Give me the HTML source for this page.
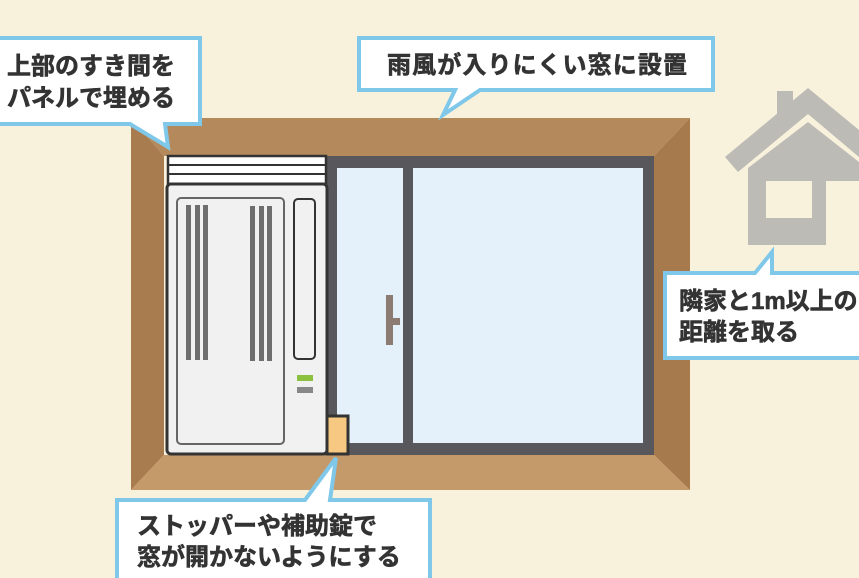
<!DOCTYPE html>
<html><head><meta charset="utf-8"><style>
body{margin:0;width:859px;height:578px;overflow:hidden;background:#f8f1dc;font-family:"Liberation Sans","Noto Sans CJK JP",sans-serif;}
svg{position:absolute;left:0;top:0}
.t{font-family:"Liberation Sans","Noto Sans CJK JP",sans-serif;font-weight:bold;font-size:24px;fill:#333;stroke:#333;stroke-width:0.6}
</style></head><body>
<svg width="859" height="578" viewBox="0 0 859 578">
<g fill="#bdbbb6">
<rect x="777" y="91" width="16" height="30"/>
<polygon points="725,157 808,88 859,130 859,157 808,114 738,172"/>
<polygon points="748,168 808,122 859,162 859,245 748,245"/>
</g>
<rect x="766" y="181" width="46" height="37" fill="#f8f1dc"/>
<rect x="826" y="181" width="40" height="64" fill="#f8f1dc"/>
<polygon points="131,118 690,118 654,156 164,156" fill="#b48a5c"/>
<polygon points="131,118 164,156 164,455 131,490" fill="#a97c4f"/>
<polygon points="131,490 164,455 654,455 690,490" fill="#c49a6a"/>
<polygon points="690,118 654,156 654,455 690,490" fill="#a67a4c"/>
<rect x="325" y="156" width="329" height="299" fill="#58575c"/>
<rect x="337" y="168" width="66" height="275" fill="#e4f1fa"/>
<rect x="413" y="168" width="230" height="275" fill="#e4f1fa"/>
<rect x="386" y="295" width="7" height="50" fill="#8b7b72"/>
<rect x="386" y="318" width="14" height="7" fill="#8b7b72"/>
<rect x="168" y="156" width="158" height="28" fill="#fff" stroke="#333" stroke-width="2.5"/>
<line x1="168" y1="165" x2="326" y2="165" stroke="#333" stroke-width="2"/>
<line x1="168" y1="174" x2="326" y2="174" stroke="#333" stroke-width="2"/>
<rect x="167" y="184" width="160" height="270" rx="4" fill="#f1f1f1" stroke="#333" stroke-width="3"/>
<rect x="177" y="198" width="107" height="246" rx="4" fill="none" stroke="#666" stroke-width="2"/>
<g fill="#6e6e6e">
<rect x="186" y="205" width="5" height="155"/><rect x="195" y="205" width="5" height="155"/><rect x="203" y="205" width="5" height="155"/>
<rect x="250" y="206" width="5" height="155"/><rect x="259" y="206" width="5" height="155"/><rect x="267" y="206" width="5" height="155"/>
</g>
<rect x="294" y="199" width="21" height="160" rx="4" fill="none" stroke="#333" stroke-width="2"/>
<rect x="297" y="375" width="16" height="6" fill="#8cc13f"/>
<rect x="297" y="387" width="16" height="6" fill="#888"/>
<rect x="327" y="416" width="21" height="38" fill="#f6c882" stroke="#333" stroke-width="3"/>
<g fill="#fff" stroke="#7fc8ea" stroke-width="4" stroke-linejoin="miter">
<path d="M-5,38 H200 V124 H165 L168,147 L130,124 H-5 Z"/>
<path d="M359,38 H713 V90 H480 L443,115 L455,90 H359 Z"/>
<path d="M665,273 H755 L772,252 L772,273 H870 V358 H665 Z"/>
<path d="M117,500 H305 L336,458 L330,500 H430 V590 H117 Z"/>
</g>
<text class="t" x="7" y="74">上部のすき間を</text>
<text class="t" x="7" y="106">パネルで埋める</text>
<text class="t" x="387" y="73" textLength="300">雨風が入りにくい窓に設置</text>
<text class="t" x="679" y="309">隣家と1m以上の</text>
<text class="t" x="679" y="340">距離を取る</text>
<text class="t" x="137" y="534">ストッパーや補助錠で</text>
<text class="t" x="137" y="565">窓が開かないようにする</text>
</svg>
</body></html>
